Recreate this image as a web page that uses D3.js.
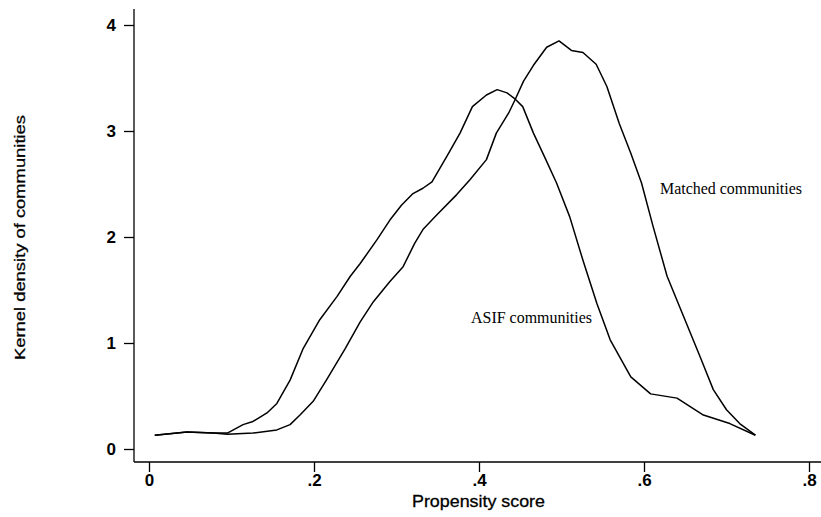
<!DOCTYPE html>
<html>
<head>
    <meta charset="utf-8">
    <style>
        body { margin: 0; background: #fff; }
        svg { display: block; }
        .axis text {
            font-family: "Liberation Sans", Arial, sans-serif;
            font-weight: bold;
            fill: #000;
        }
        .x .tick text { font-size: 17px; }
        .y .tick text { font-size: 17px; }
        .axis .domain, .axis .tick line {
            stroke: #000;
            stroke-width: 1.3px;
        }
        .title {
            font-family: "Liberation Sans", Arial, sans-serif;
            font-size: 17px;
            fill: #000;
            stroke: #000;
            stroke-width: 0.3px;
        }
        .lab {
            font-family: "Liberation Serif", "Times New Roman", serif;
            font-size: 16px;
            fill: #000;
        }
    </style>
</head>
<body>
<svg width="821" height="517"></svg>

<script src="https://d3js.org/d3.v7.min.js"></script>
<script>
    // x ticks and labels (Stata style, no leading zero)
    let xTicks = [0, 0.2, 0.4, 0.6, 0.8]
    let xTickLabels = ["0", ".2", ".4", ".6", ".8"]
    let yTicks = [0, 1, 2, 3, 4]
    let yTickLabels = ["0", "1", "2", "3", "4"]

    // ASIF communities: propensity score / kernel density
    let asifX = [0.007, 0.046, 0.078, 0.095, 0.114, 0.126, 0.143, 0.155, 0.171, 0.187,
        0.207, 0.228, 0.244, 0.256, 0.276, 0.292, 0.306, 0.320, 0.332, 0.343,
        0.361, 0.377, 0.392, 0.409, 0.422, 0.434, 0.444, 0.453, 0.466, 0.481,
        0.494, 0.510, 0.526, 0.543, 0.559, 0.584, 0.608, 0.640, 0.672, 0.704, 0.735]
    let asifY = [0.13, 0.16, 0.15, 0.15, 0.23, 0.26, 0.34, 0.43, 0.65, 0.95,
        1.22, 1.44, 1.63, 1.75, 1.97, 2.16, 2.30, 2.41, 2.46, 2.52,
        2.76, 2.98, 3.23, 3.34, 3.39, 3.36, 3.30, 3.23, 2.98, 2.73,
        2.51, 2.19, 1.78, 1.37, 1.03, 0.68, 0.52, 0.48, 0.32, 0.24, 0.13]

    // Matched communities
    let matchedX = [0.007, 0.046, 0.078, 0.095, 0.126, 0.155, 0.171, 0.183, 0.199, 0.215,
        0.238, 0.256, 0.272, 0.292, 0.308, 0.322, 0.332, 0.349, 0.373, 0.389,
        0.409, 0.421, 0.436, 0.444, 0.454, 0.466, 0.482, 0.497, 0.512, 0.526,
        0.542, 0.555, 0.570, 0.584, 0.597, 0.611, 0.628, 0.648, 0.668, 0.684,
        0.700, 0.716, 0.735]
    let matchedY = [0.13, 0.16, 0.15, 0.14, 0.15, 0.18, 0.23, 0.32, 0.45, 0.65,
        0.95, 1.20, 1.39, 1.58, 1.72, 1.94, 2.07, 2.21, 2.40, 2.54,
        2.73, 2.98, 3.17, 3.30, 3.47, 3.62, 3.79, 3.85, 3.76, 3.74,
        3.63, 3.42, 3.07, 2.79, 2.51, 2.10, 1.63, 1.25, 0.87, 0.56,
        0.37, 0.24, 0.13]

    let svg = d3.select("svg")

    // scales: data -> pixels
    let x = d3.scaleLinear().domain([0, 0.8]).range([149, 809])
    let y = d3.scaleLinear().domain([0, 4]).range([449, 25])

    let axisX = 134   // where y axis sits
    let axisY = 462   // where x axis sits

    // x axis
    let xAxis = svg.append("g")
        .attr("class", "axis x")
        .attr("transform", `translate(0,${axisY})`)
        .call(d3.axisBottom(x)
            .tickValues(xTicks)
            .tickFormat((d, i) => xTickLabels[i])
            .tickSize(10)
            .tickSizeOuter(0)
            .tickPadding(2))
    xAxis.select(".domain").attr("d", `M${axisX},0H821`)

    // y axis
    let yAxis = svg.append("g")
        .attr("class", "axis y")
        .attr("transform", `translate(${axisX},0)`)
        .call(d3.axisLeft(y)
            .tickValues(yTicks)
            .tickFormat((d, i) => yTickLabels[i])
            .tickSize(10)
            .tickSizeOuter(0)
            .tickPadding(8))
    yAxis.select(".domain").attr("d", `M0,9V${axisY}`)

    // axis titles
    svg.append("text")
        .attr("class", "title")
        .attr("x", 412)
        .attr("y", 507)
        .attr("textLength", 133)
        .attr("lengthAdjust", "spacingAndGlyphs")
        .text("Propensity score")

    svg.append("text")
        .attr("class", "title")
        .attr("transform", "translate(25,360) rotate(-90) scale(1,0.9)")
        .attr("textLength", 245)
        .attr("lengthAdjust", "spacingAndGlyphs")
        .text("Kernel density of communities")

    let line = d3.line()
        .x(d => x(d[0]))
        .y(d => y(d[1]))

    let series = [
        { name: "ASIF communities", pts: d3.zip(asifX, asifY) },
        { name: "Matched communities", pts: d3.zip(matchedX, matchedY) }
    ]

    svg.append("g")
        .selectAll("path")
        .data(series)
        .join("path")
        .attr("d", d => line(d.pts))
        .style("fill", "none")
        .style("stroke", "#000")
        .style("stroke-width", "1.5px")
        .style("stroke-linejoin", "round")

    // curve labels
    svg.append("text")
        .attr("class", "lab")
        .attr("x", 660)
        .attr("y", 194)
        .attr("textLength", 142)
        .attr("lengthAdjust", "spacingAndGlyphs")
        .text("Matched communities")

    svg.append("text")
        .attr("class", "lab")
        .attr("x", 471)
        .attr("y", 323)
        .attr("textLength", 121)
        .attr("lengthAdjust", "spacingAndGlyphs")
        .text("ASIF communities")
</script>
</body>
</html>
